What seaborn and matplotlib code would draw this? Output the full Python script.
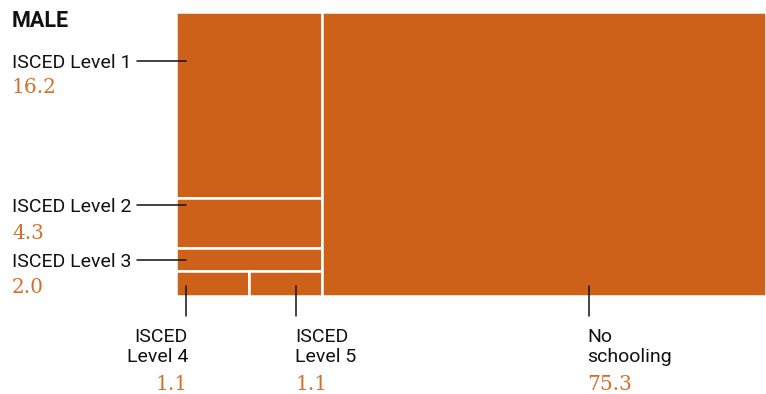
import matplotlib
matplotlib.use("Agg")
import matplotlib.pyplot as plt
from matplotlib.patches import Rectangle
import seaborn as sns

# ---- data ----
title = "MALE"
categories = ["ISCED Level 1", "ISCED Level 2", "ISCED Level 3",
              "ISCED Level 4", "ISCED Level 5", "No schooling"]
label_text = ["ISCED Level 1", "ISCED Level 2", "ISCED Level 3",
              "ISCED\nLevel 4", "ISCED\nLevel 5", "No\nschooling"]
values = [16.2, 4.3, 2.0, 1.1, 1.1, 75.3]
value_labels = ["16.2", "4.3", "2.0", "1.1", "1.1", "75.3"]

# treemap grouping: columns -> rows -> cells (indices into categories)
layout_groups = [[[0], [1], [2], [3, 4]], [[5]]]

sns.set_theme(style="white")
plt.rcParams['font.family'] = ['Roboto', 'DejaVu Sans']

BOX = "#CD611A"
VAL = "#D5702C"
W, H = 766, 394
fig = plt.figure(figsize=(W / 100, H / 100), dpi=100)
ax = fig.add_axes([0, 0, 1, 1])
ax.set_xlim(0, W)
ax.set_ylim(H, 0)
ax.axis("off")

# treemap area
X0, X1, Y0, Y1 = 176, 766, 12, 296
total = sum(values)
rects = {}
x = X0
for col in layout_groups:
    col_sum = sum(values[i] for row in col for i in row)
    cw = (X1 - X0) * col_sum / total
    y = Y0
    for row in col:
        row_sum = sum(values[i] for i in row)
        rh = (Y1 - Y0) * row_sum / col_sum
        xx = x
        for i in row:
            w = cw * values[i] / row_sum
            rects[i] = (xx, y, w, rh)
            xx += w
        y += rh
    x += cw

for i, (rx, ry, rw, rh) in rects.items():
    ax.add_patch(Rectangle((rx, ry), rw, rh, facecolor=BOX,
                           edgecolor="white", linewidth=1.8))

ax.text(12, 27, title, fontsize=15.5, fontweight="bold", color="#111111",
        va="baseline", ha="left")

LBL = 14
VFS = 14.5
serif = ["DejaVu Serif"]

# left side labels (horizontal leaders)
left_items = [(0, 68, 93), (1, 212, 239), (2, 267, 293)]
for i, base, vbase in left_items:
    ax.text(12, base, label_text[i], fontsize=LBL, color="#111111",
            va="baseline", ha="left")
    ax.text(12, vbase, value_labels[i], fontsize=VFS, color=VAL,
            va="baseline", ha="left", family=serif)
    rx, ry, rw, rh = rects[i]
    ax.plot([137, rx + 10], [base - 7, base - 7], color="#111111", lw=1.1)

# bottom labels (vertical leaders)
bottom_items = [(3, 186, "right", 188), (4, 296, "left", 295), (5, 589, "left", 587)]
for i, lx, ha, tx in bottom_items:
    ax.plot([lx, lx], [286, 316], color="#111111", lw=1.1)
    for k, line in enumerate(label_text[i].split("\n")):
        ax.text(tx, 342 + 20 * k, line, fontsize=LBL, color="#111111",
                va="baseline", ha=ha)
    ax.text(tx, 390, value_labels[i], fontsize=VFS, color=VAL,
            va="baseline", ha=ha, family=serif)

fig.savefig("out.png", dpi=100)
